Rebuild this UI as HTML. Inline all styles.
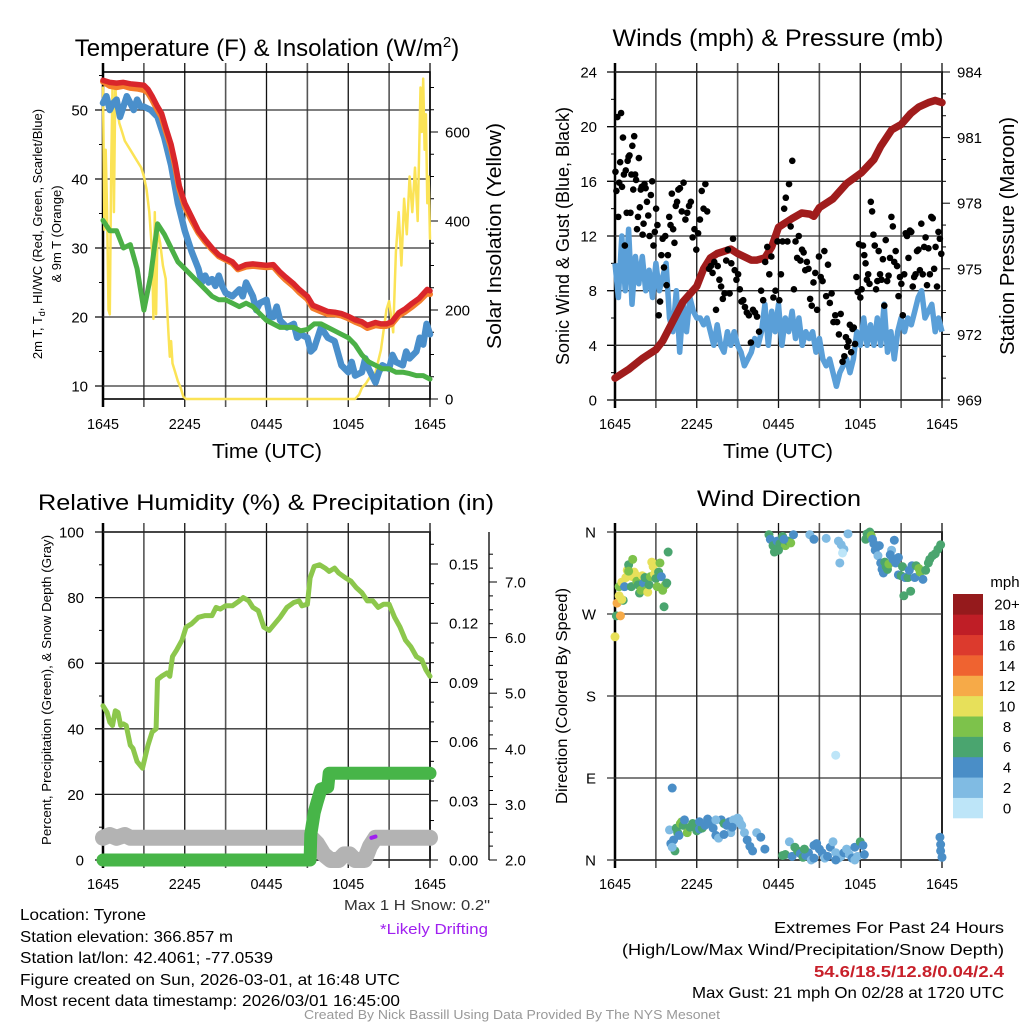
<!DOCTYPE html>
<html><head><meta charset="utf-8"><style>
html,body{margin:0;padding:0;background:#fff;}
svg{display:block;font-family:"Liberation Sans",sans-serif;}
</style></head>
<body>
<svg id="root" width="1024" height="1024" viewBox="0 0 1024 1024" xmlns="http://www.w3.org/2000/svg">
<rect x="0" y="0" width="1024" height="1024" fill="#fff"/>
<g id="g"></g>
</svg>
<script>
// ---------- data ----------
const timeTickLabels = ["1645","2245","0445","1045","1645"];
const tempRed = [[0,54.3],[0.5,54],[1,53.9],[1.5,54],[2,53.8],[2.5,53.7],[3,53.6],[3.3,53],[3.6,52],[4,50.5],[4.3,49.5],[4.6,47.5],[5,45],[5.3,42.3],[5.6,39],[6,36.5],[6.5,34.5],[7,32.5],[7.5,31.2],[8,30],[8.5,29],[9,28.5],[9.5,28],[9.9,27.1],[10.5,27.6],[11,27.7],[11.5,27.6],[12,27.5],[12.5,27.6],[13,26.5],[13.4,25.8],[14,24.8],[14.4,24],[15,23],[15.4,21.7],[16,21.2],[16.5,20.8],[17,20.7],[17.5,20.5],[18,20.1],[18.5,19.6],[19,19.3],[19.4,18.8],[20,19.2],[20.4,19],[20.8,19],[21.2,19.3],[21.7,20.6],[22.2,21.2],[22.7,22],[23.2,22.7],[23.8,24],[24,23.8]];
const tempOrange = [[0,54.1],[0.5,53.5],[1,53.3],[1.5,53.5],[2,53.2],[2.5,53.1],[3,52.9],[3.3,52.5],[3.6,51.5],[4,50],[4.3,49],[4.6,47],[5,44.5],[5.3,41.8],[5.6,38.6],[6,36],[6.5,34],[7,32.2],[7.5,30.9],[8,29.8],[8.5,28.8],[9,28.3],[9.5,27.8],[9.9,26.9],[10.5,27.3],[11,27.4],[11.5,27.3],[12,27.2],[12.5,27.3],[13,26.2],[13.4,25.4],[14,24.4],[14.4,23.6],[15,22.6],[15.4,21.3],[16,20.8],[16.5,20.4],[17,20.4],[17.5,20.2],[18,19.8],[18.5,19.3],[19,18.9],[19.4,18.4],[20,18.8],[20.4,18.7],[20.8,18.7],[21.2,19],[21.7,20.2],[22.2,20.8],[22.7,21.5],[23.2,22.3],[23.8,23.5],[24,23.3]];
const heatIndex = [[0,51],[0.25,52],[0.5,50],[0.75,51],[1,51.5],[1.25,49],[1.5,50.5],[1.75,52],[2,51],[2.25,50],[2.5,51.5],[2.75,50.5],[3,50.5],[3.5,50],[4,49],[4.5,46],[5,42],[5.5,36.5],[6,32.5],[6.5,29.5],[7,27],[7.25,25],[7.5,26],[7.75,25],[8,25.5],[8.25,24.5],[8.5,26],[8.75,24.5],[9,23.5],[9.5,23],[10,24],[10.25,23],[10.5,25],[11,23],[11.25,21],[11.5,22],[12,22.5],[12.25,20],[12.5,20],[12.75,21.5],[13,19.5],[13.5,18.5],[14,19],[14.25,17],[14.5,17.5],[15,17],[15.25,15],[15.5,15.5],[16,18.5],[16.5,17],[17,16.5],[17.5,13],[18,12],[18.25,13.5],[18.5,11.5],[19,12],[19.25,14],[19.5,12.5],[20,10.5],[20.25,12],[20.5,13],[21,12.5],[21.25,14.5],[21.5,13.5],[22,13],[22.25,15],[22.5,14],[23,15],[23.25,17],[23.5,16],[23.75,19],[24,17.5]];
const dewPoint = [[0,34],[0.5,32.5],[1,32.5],[1.5,30],[2,30.5],[2.5,27],[3,21],[3.5,26],[4,33.5],[4.5,32],[5,30],[5.5,28],[6,27],[6.5,26],[7,25],[7.5,24],[8,23],[8.5,22.5],[9,22.5],[9.5,22],[10,21.5],[10.5,22],[11,21.5],[11.5,20.5],[12,19.5],[12.5,19],[13,18.5],[13.5,18.5],[14,18.5],[14.5,18],[15,18.2],[15.5,19],[16,19],[16.5,18.5],[17,18],[17.5,17.5],[18,17],[18.5,16],[19,14.5],[19.5,13.5],[20,13],[20.5,12.5],[21,12.5],[21.5,12],[22,12],[22.5,11.8],[23,11.5],[23.5,11.5],[24,11]];
const insolation = [[0,700],[0.1,380],[0.2,560],[0.3,420],[0.4,200],[0.5,190],[0.6,520],[0.7,700],[0.8,420],[0.9,700],[1.0,660],[1.1,640],[1.2,620],[1.4,600],[1.6,580],[2.0,560],[2.4,540],[2.8,520],[3.0,500],[3.2,470],[3.4,420],[3.6,330],[3.7,180],[3.8,420],[3.9,190],[4.0,380],[4.2,350],[4.4,300],[4.6,270],[4.8,150],[4.9,95],[5.0,130],[5.1,80],[5.3,60],[5.5,40],[5.7,25],[5.9,5],[6.1,0],[18.5,0],[18.8,10],[19.0,25],[19.3,35],[19.6,50],[20.0,60],[20.4,110],[20.8,200],[21.0,220],[21.3,150],[21.5,330],[21.7,420],[21.9,300],[22.1,450],[22.3,370],[22.5,500],[22.7,420],[22.9,520],[23.1,400],[23.3,700],[23.4,600],[23.5,720],[23.6,560],[23.7,640],[23.8,440],[23.9,500],[24,360]];
const windTimes = [0,0.25,0.5,0.75,1,1.25,1.5,1.75,2,2.25,2.5,2.75,3,3.25,3.5,3.75,4,4.25,4.5,4.75,5,5.25,5.5,5.75,6,6.25,6.5,6.75,7,7.25,7.5,7.75,8,8.25,8.5,8.75,9,9.25,9.5,9.75,10,10.25,10.5,10.75,11,11.25,11.5,11.75,12,12.25,12.5,12.75,13,13.25,13.5,13.75,14,14.25,14.5,14.75,15,15.25,15.5,15.75,16,16.25,16.5,16.75,17,17.25,17.5,17.75,18,18.25,18.5,18.75,19,19.25,19.5,19.75,20,20.25,20.5,20.75,21,21.25,21.5,21.75,22,22.25,22.5,22.75,23,23.25,23.5,23.75,24];
const windSpeed = [10,7.5,12,8,12.5,7,10.5,8.5,10.5,8,9.5,7.5,10, 8,9,10,6,5,8,3.5,7,5,7.5,6.5,6, 6,5.5,6,5,4,5.5,4,3.5,5,4,5,4, 3.5,2.5,3,3.5,4.5,4,5,7,4,6.5,5,7, 4,6,5,6.5,4.5,6,4,5,4.5,5,3.5,4.5, 3,2.5,3,2,1,2,2.5,3,2,3,5,4, 6,4,5.5,4,6,4,7,3.5,5,3,5,6, 5,6,5.5,6.5,7.5,8,6,6.5,7,5,6,5];
const gustSegStart = [0,2.2,4.7,7.1,9.6,12,14.5,16.9,19.4,21.8];
const gustSegEnd = [2.2,4.7,7.1,9.6,12,14.5,16.9,19.4,21.8,24];
const gustVals = [
 [16.7,15.3,20.7,13.4,15.9,17.4,21,15.6,19.2,16.5,11.3,16.8,13.7,17.5,17.8,17.9,13.7,16.5,18.6,15.4,19.3,16.5,16.1,12.5,13.4,17.7,14.1,15.4,15.6,12.1,12.9,15.8],
 [15.5,14.5,13.5,12,15,16,11.3,12.3,14,12.8,6.2,7.2,10.6,11.8,9.7,12,8.4,10.6,13.4,12.8,15.1,12.5,11.5,14.2,14.5,15.4],
 [15.5,13.8,15.9,13.2,13.7,14.2,14.5,11.9,12.5,11,12.2,13.2,15.3,14,15.8,13.8,9.6,9.8],
 [9.3,10.1,6.6,9.8,8.8,8.3,7.4,7.8,10.2,11.0,7.8,10.0,11.8,9.5,8.8,9.2,8.1,7.2,7.3,6.8],
 [6.4,6.2,4.2,6.6,6.4,6.1,5.0,8.0,7.3,10.1,11.2,9.2,10.5,7.5,8.0,11.6],
 [7.3,9.2,11.6,14.0,14.8,11.6,15.8,12.7,17.5,8.1,11.6,10.4,12.0,10.2,11.0,10.8,9.5,10.1,9.6,7.4,6.9],
 [8.6,9.3,6.6,10.5,9.0,8.7,10.9,7.6,9.9,7.1,7.8,5.7,6.2,5.7,4.8,6.3,2.8,3.2],
 [4.6,3.9,4.3,5.5,3.5,5.2,5.3,4.1,9.0,7.9,11.4,7.5,8.1,11.3,10.6,10.0,8.8,9.2,8.5,14.5,13.8,12.1,11.3,8.1,8.7,10.9],
 [9.2,8.8,10.3,6.9,11.7,8.7,9.1,10.4,13.4,12.7,10.1,10.9,9.8,7.6,9.0,8.5,6.2,9.2,12.2,12.0,10.4,12.4,12.3],
 [8.3,9.0,9.2,10.9,11.0,9.5,12.9,9.2,11.2,11.9,8.4,11.1,9.2,13.4,13.3,9.6,11.2,8.3,12.3,11.8,10.7]
];
const pressure = [[0,970.0],[1,970.4],[2,970.9],[3,971.3],[3.5,971.7],[4,972.3],[5,973.5],[6,974.2],[6.5,975.0],[7,975.5],[7.5,975.7],[8,975.8],[8.5,975.9],[9,975.7],[10,975.4],[10.4,975.4],[11,975.5],[11.5,976.0],[12,976.9],[12.5,977.1],[13,977.3],[13.7,977.55],[14.3,977.5],[14.6,977.4],[15,977.8],[16,978.2],[17,978.9],[18.1,979.4],[19,980.0],[19.5,980.6],[20.3,981.35],[21,981.6],[21.7,982.1],[22.3,982.4],[23,982.6],[23.5,982.7],[24,982.6]];
const relHum = [[0,47],[0.3,45],[0.5,42],[0.7,41],[0.9,45.5],[1.1,45],[1.3,41],[1.5,41.5],[1.7,41],[2.0,35],[2.2,34],[2.5,30],[2.9,28],[3.3,35],[3.6,39],[3.9,40],[4.0,55],[4.3,56],[4.7,57],[4.9,56],[5.1,62],[5.4,64],[5.8,67],[6.1,71],[6.5,72],[7.0,74],[7.5,74.5],[8.0,74.5],[8.3,77],[8.6,76.5],[9.0,77.5],[9.5,77.5],[10.0,79],[10.3,80],[10.7,79],[11.0,77],[11.4,76],[11.8,71],[12.2,70],[12.6,72],[13.0,74],[13.5,77],[14.0,78.5],[14.4,79],[14.6,77.5],[15.0,78],[15.2,86],[15.5,89.5],[15.9,90],[16.3,89],[16.6,88],[17.0,89],[17.3,87.5],[17.8,86],[18.2,85],[18.6,83],[19.0,81.5],[19.4,79],[19.8,79],[20.2,77],[20.6,78],[21.0,78],[21.4,74],[21.8,71],[22.2,67],[22.6,65],[23.0,62],[23.4,61],[23.7,58],[24,56]];
const precip = [[0,0],[15.2,0],[15.25,0.013],[15.5,0.024],[15.7,0.029],[16.0,0.036],[16.5,0.037],[16.6,0.044],[24,0.044]];
const snowDepth = [[0,2.4],[0.5,2.45],[1,2.4],[1.6,2.45],[2,2.4],[15.3,2.4],[15.7,2.3],[16.2,2.1],[16.7,2.0],[17.3,2.0],[17.7,2.1],[18.1,2.1],[18.5,2.0],[19.2,2.0],[19.6,2.25],[20,2.4],[24,2.4]];
const driftSnow = [[19.7,2.4],[20.0,2.42]];
const dirTimes = [0,0.1,0.15,0.3,0.4,0.3,0.5,0.6,0.7,0.8,0.9,1.0,1.1,1.2,1.3,1.4,1.5,1.6,1.7,1.8,1.9,2.0,2.1,2.2,2.3,2.4,2.5,2.6,2.7,2.8,2.9,3.0,3.1,3.2,3.3,3.4,3.5,3.6,3.7,3.8,3.9,1.3,1.0,0.5,
 4.2,4.0,4.1,4.3,4.4,4.2,4.5,4.6,4.7,4.8,4.9,5.0,5.1,5.3,5.5,5.7,5.9,6.0,6.2,6.4,6.6,6.8,7.0,7.2,7.4,7.6,7.8,8.0,8.2,8.4,8.5,8.7,8.9,9.1,9.3,9.5,9.7,9.9,10.1,8.0,8.6,9.0,9.2,7.4,6.2,10.4,10.7,11.0,
 12.3,12.5,12.8,13.0,13.2,13.4,13.6,13.8,14.0,14.2,14.4,14.6,14.8,15.0,15.2,15.4,15.6,15.8,16.0,16.2,16.4,16.6,16.8,17.0,17.2,17.4,17.6,17.8,18.0,18.2,17.6,16.2,14.6,13.9,18.3,
 11.3,11.4,11.6,11.7,11.9,12.1,12.3,12.5,12.7,12.9,13.1,12.0,12.4,
 14.3,14.6,15.5,16.4,16.6,16.8,16.7,16.5,17.1,16.2,
 18.4,18.5,18.7,18.8,18.9,19.0,19.1,19.3,19.4,19.5,19.6,19.7,19.8,19.9,20.0,20.1,20.3,20.4,20.6,20.8,20.8,21.0,21.1,21.2,21.3,21.5,21.6,21.7,21.8,22.0,22.1,22.3,22.4,22.6,22.8,23.0,23.1,23.3,23.5,23.7,23.9,20.5,20.2,23.9,23.9,24,23.85];
const dirDeg = [245,268,282,290,268,300,305,285,300,310,318,324,312,300,311,316,313,306,302,293,296,312,304,310,296,294,302,311,327,322,314,309,300,316,326,311,296,278,302,304,338,330,317,286,
 79,33,18,22,10,14,35,30,27,40,42,38,44,30,36,40,38,32,34,35,38,45,40,35,27,24,44,40,38,42,30,44,42,44,38,30,22,15,10,28,36,46,40,44,42,30,25,12,
 5,6,20,4,14,10,7,3,5,8,0,2,18,12,8,2,4,14,20,8,2,4,8,12,6,2,14,4,20,16,0,0,16,12,6,
 357,352,345,338,350,347,355,345,350,348,357,340,352,
 357,352,353,350,346,341,337,326,358,115,
 352,358,360,356,352,347,340,334,345,326,319,315,327,322,319,325,340,330,326,332,313,312,322,290,310,310,318,295,323,310,323,320,316,308,318,326,330,334,336,341,346,351,335,10,17,3,25];
const dirSpeed = [10,7,13,10,13,8,10,7,4,10,10,7,10,6,10,10,10,9,6,7,9,10,5,6,9,10,7,9,10,10,10,6,8,7,8,4,8,7,9,6,7,8,9,10,
 4,2,4,4,6,2,6,6,4,8,8,6,4,8,6,6,6,6,4,6,4,4,4,4,4,2,4,6,4,4,2,2,2,2,2,2,4,4,4,4,4,2,2,2,4,3,4,4,
 6,6,2,4,6,6,4,6,4,4,2,4,4,4,4,2,4,4,2,2,2,2,4,2,2,4,4,2,6,4,2,4,4,6,4,
 6,4,6,6,4,6,6,8,6,8,4,6,4,
 2,4,2,2,2,2,0,2,2,1,
 6,6,6,8,4,4,4,2,4,4,4,4,6,6,6,8,2,4,4,4,4,6,6,6,4,6,4,6,4,4,6,8,8,4,6,6,6,6,6,6,6,4,4,4,4,4,4];
const speedLabels = ["0","2","4","6","8","10","12","14","16","18","20+"];
const speedColors = ["#bde5f8","#80bbe3","#4a8ec7","#4aa56f","#7dc24b","#e7e05a","#f6aa48","#ef6330","#dc3a2d","#bf1e26","#951a1c"];

// ---------- helpers ----------
const NS="http://www.w3.org/2000/svg";
const G=document.getElementById('g');
function mk(tag,attrs,parent){const e=document.createElementNS(NS,tag);for(const k in attrs)e.setAttribute(k,attrs[k]);(parent||G).appendChild(e);return e;}
function txt(s,x,y,size,anchor,extra,parent){const e=mk('text',Object.assign({x:x,y:y,'font-size':size,'text-anchor':anchor||'middle',fill:'#000'},extra||{}),parent);e.textContent=s;return e;}
function fit(e,w){e.setAttribute('textLength',w);e.setAttribute('lengthAdjust','spacingAndGlyphs');return e;}
function pathD(pairs,xs,ys){return pairs.map((p,i)=>(i?'L':'M')+xs(p[0]).toFixed(1)+' '+ys(p[1]).toFixed(1)).join(' ');}
function mkX(x0,x1){return h=>x0+h/24*(x1-x0);}
function lin(v0,v1,p0,p1){return v=>p0+(v-v0)/(v1-v0)*(p1-p0);}

function frame(x0,x1,y0,y1,name){
  const g=mk('g',{});
  
  
  for(let i=0;i<=8;i++){const x=x0+i*(x1-x0)/8;
    mk('line',{x1:x,x2:x,y1:y0-9,y2:y1+8,stroke:i%2?'#555':'#111','stroke-width':i%2?1.6:1.3},g);}
  mk('rect',{x:x0,y:y0,width:x1-x0,height:y1-y0,fill:'none',stroke:'#000','stroke-width':1.6},g);
  mk('line',{x1:x0,x2:x0,y1:y0-9,y2:y1+8,stroke:'#000','stroke-width':2.5},g);
  return g;
}
function xLabels(x0,x1,yb,name){
  const xs=mkX(x0,x1);
  timeTickLabels.forEach((l,i)=>{const t=txt(l,xs(i*6),yb,14.5,'middle');
    fit(t,32);
    
    });
}
function hGrid(x0,x1,y,g){mk('line',{x1:x0-8,x2:x1,y1:y,y2:y,stroke:'#333','stroke-width':1.3},g);}
function leftTicks(x0,vals,ys,major,labels,g){
  vals.forEach(v=>{const y=ys(v);mk('line',{x1:x0,x2:x0-(major(v)?8:4),y1:y,y2:y,stroke:'#000','stroke-width':1},g);});
}
function rightTicks(x1,vals,ys,major,g){
  vals.forEach(v=>{const y=ys(v);mk('line',{x1:x1,x2:x1+(major(v)?8:4),y1:y,y2:y,stroke:'#000','stroke-width':1},g);});
}
function rotText(s,x,y,size,name,w){
  const t=txt(s,0,0,size,'middle',{transform:`translate(${x},${y}) rotate(-90)`});
  if(w)fit(t,w);
  
  
  return t;
}

// ================= Panel 1: Temperature =================
(function(){
  const x0=103,x1=430,y0=72,y1=399;
  const xs=mkX(x0,x1);
  const yT=lin(10,50,386,110);
  const yW=lin(0,600,399,132);
  const g=frame(x0,x1,y0,y1,'temperature');
  for(let v=10;v<=50;v+=10)hGrid(x0,x1,yT(v),g);
  const tv=[];for(let v=10;v<=55;v+=5)tv.push(v);
  leftTicks(x0,tv,yT,v=>v%10===0,null,g);
  const wv=[];for(let v=0;v<=700;v+=50)wv.push(v);
  rightTicks(x1,wv,yW,v=>v%200===0,g);
  for(let v=10;v<=50;v+=10){const t=txt(String(v),88,yT(v)+5.5,15,'end');
    
    }
  for(let v=0;v<=600;v+=200){const t=txt(String(v),445,yW(v)+5.5,15,'start');
    
    }
  const series=[[insolation,'#fbe356',2.5,yW,'insolation-line'],[heatIndex,'#4a8fcb',6.5,yT,'heat-index-line'],[dewPoint,'#4bb046',5,yT,'dewpoint-line'],[tempOrange,'#f47d2b',6,yT,'temp-9m-line'],[tempRed,'#d9262b',5.5,yT,'temp-2m-line']];
  series.forEach(s=>{const p=mk('path',{d:pathD(s[0],xs,s[3]),fill:'none',stroke:s[1],'stroke-width':s[2],'stroke-linejoin':'round','stroke-linecap':'round'});
    
    });
  xLabels(x0,x1,429,'temperature');
  const tt=txt('',267,56,24,'middle');
  tt.innerHTML='Temperature (F) &amp; Insolation (W/m<tspan dy="-9" font-size="15">2</tspan><tspan dy="9">)</tspan>';
  
  
  const xl=fit(txt('Time (UTC)',267,458,20),110);
  
  
  const yl=txt('',0,0,13,'middle',{transform:'translate(42,234) rotate(-90)'});
  yl.innerHTML='2m T, T<tspan dy="3" font-size="9">d</tspan><tspan dy="-3">, HI/WC (Red, Green, Scarlet/Blue)</tspan>';
  
  
  rotText('& 9m T (Orange)',61,234,13,'temperature-y-axis-title-2');
  rotText('Solar Insolation (Yellow)',501,236,20,'insolation-y-axis-title',226);
})();

// ================= Panel 2: Winds =================
(function(){
  const x0=615,x1=942,y0=72,y1=400;
  const xs=mkX(x0,x1);
  const yV=lin(0,24,400,72);
  const yP=lin(969,984,400,72);
  const g=frame(x0,x1,y0,y1,'winds');
  for(let v=0;v<=24;v+=4)hGrid(x0,x1,yV(v),g);
  const vv=[];for(let v=0;v<=24;v+=2)vv.push(v);
  leftTicks(x0,vv,yV,v=>v%4===0,null,g);
  const pv=[];for(let v=969;v<=984;v++)pv.push(v);
  rightTicks(x1,pv,yP,v=>(v-969)%3===0,g);
  for(let v=0;v<=24;v+=4){const t=txt(String(v),597,yV(v)+5.5,15,'end');
    
    }
  for(let v=969;v<=984;v+=3){const t=txt(String(v),957,yP(v)+5.5,15,'start');
    
    }
  const wp=windTimes.map((t,i)=>[t,windSpeed[i]]);
  const wl=mk('path',{d:pathD(wp,xs,yV),fill:'none',stroke:'#5a9fd8','stroke-width':5.5,'stroke-linejoin':'round'});
  
  
  const pl=mk('path',{d:pathD(pressure,xs,yP),fill:'none',stroke:'#a01c1c','stroke-width':7.5,'stroke-linejoin':'round','stroke-linecap':'round'});
  
  
  gustVals.forEach((seg,si)=>{
    const a=gustSegStart[si],b=gustSegEnd[si];
    seg.forEach((v,j)=>{const t=a+(b-a)*(j+0.5)/seg.length;
      const c=mk('circle',{cx:xs(t),cy:yV(v),r:3.3,fill:'#000'});
      
      });
  });
  xLabels(x0,x1,429,'winds');
  const tt=fit(txt('Winds (mph) & Pressure (mb)',778,46,24,'middle'),331);
  
  
  const xl=fit(txt('Time (UTC)',778,458,20),110);
  
  
  rotText('Sonic Wind & Gust (Blue, Black)',569,236,18,'wind-y-axis-title',258);
  rotText('Station Pressure (Maroon)',1014,236,20,'pressure-y-axis-title',238);
})();

// ================= Panel 3: RH & Precip =================
(function(){
  const x0=103,x1=430,y0=532,y1=860;
  const xs=mkX(x0,x1);
  const yR=lin(0,100,860,532);
  const yPr=lin(0,0.15,860,564);
  const yS=lin(2,7,860,582);
  const g=frame(x0,x1,y0,y1,'humidity');
  for(let v=0;v<=100;v+=20)hGrid(x0,x1,yR(v),g);
  const rv=[];for(let v=0;v<=100;v+=10)rv.push(v);
  leftTicks(x0,rv,yR,v=>v%20===0,null,g);
  const prv=[];for(let i=0;i<=16;i++)prv.push(i*0.01);
  rightTicks(x1,prv,yPr,v=>Math.round(v*100)%3===0,g);
  for(let v=0;v<=100;v+=20){const t=txt(String(v),84,yR(v)+5.5,15,'end');
    
    }
  ["0.00","0.03","0.06","0.09","0.12","0.15"].forEach(l=>{const t=txt(l,449,yPr(parseFloat(l))+5.5,15,'start');
    
    });
  const sa=mk('g',{});
  
  
  mk('line',{x1:489,x2:489,y1:532,y2:860,stroke:'#000','stroke-width':1.3},sa);
  for(let v=2;v<=7.7;v+=0.25){const y=yS(v);const maj=Math.abs(v-Math.round(v))<0.01;
    mk('line',{x1:489,x2:489+(maj?8:4),y1:y,y2:y,stroke:'#000','stroke-width':1},sa);}
  ["2.0","3.0","4.0","5.0","6.0","7.0"].forEach(l=>{const t=txt(l,505,yS(parseFloat(l))+5.5,15,'start');
    
    });
  const sl=mk('path',{d:pathD(snowDepth,xs,yS),fill:'none',stroke:'#b3b3b3','stroke-width':16,'stroke-linejoin':'round','stroke-linecap':'round'});
  
  
  const dl=mk('path',{d:pathD(driftSnow,xs,yS),fill:'none',stroke:'#a020f0','stroke-width':4,'stroke-linecap':'round'});
  
  
  const pl=mk('path',{d:pathD(precip,xs,yPr),fill:'none',stroke:'#47b548','stroke-width':13,'stroke-linejoin':'round','stroke-linecap':'round'});
  
  
  const rl=mk('path',{d:pathD(relHum,xs,yR),fill:'none',stroke:'#8cc74c','stroke-width':5,'stroke-linejoin':'round','stroke-linecap':'round'});
  
  
  xLabels(x0,x1,889,'humidity');
  const tt=fit(txt('Relative Humidity (%) & Precipitation (in)',266,510,22,'middle'),456);
  
  
  rotText('Percent, Precipitation (Green), & Snow Depth (Gray)',51,690,13,'humidity-y-axis-title',310);
  const st=fit(txt('Max 1 H Snow: 0.2"',490,910,15,'end',{fill:'#333'}),146);
  
  
  const dr=fit(txt('*Likely Drifting',488,934,15,'end',{fill:'#a020f0'}),108);
  
  
})();

// ================= Panel 4: Wind Direction =================
(function(){
  const x0=615,x1=942,y0=532,y1=860;
  const xs=mkX(x0,x1);
  const yD=lin(0,360,860,532);
  const g=frame(x0,x1,y0,y1,'direction');
  const dl=["N","E","S","W","N"];
  for(let i=0;i<=4;i++){const y=yD(i*90);hGrid(x0,x1,y,g);
    const t=txt(dl[i],596,y+5.5,15,'end');
    
    }
  dirTimes.forEach((t,i)=>{const idx=Math.min(10,Math.floor(dirSpeed[i]/2));
    const c=mk('circle',{cx:xs(t),cy:yD(dirDeg[i]),r:4.5,fill:speedColors[idx]});
    
    });
  xLabels(x0,x1,889,'direction');
  const tt=fit(txt('Wind Direction',779,506,22,'middle'),164);
  
  
  rotText('Direction (Colored By Speed)',567,696,16,'direction-y-axis-title',216);
  const lg=mk('g',{});
  
  
  txt('mph',1005,587,15,'middle',{},lg);
  const bh=(818-594)/11;
  speedColors.forEach((c,i)=>{const y=818-(i+1)*bh;
    mk('rect',{x:953,y:y,width:30,height:bh+0.3,fill:c},lg);
    const t=txt(speedLabels[i],1007,y+bh/2+5.5,15,'middle',{},lg);
    
    });
})();

// ================= Footer =================
(function(){
  const left=["Location: Tyrone","Station elevation: 366.857 m","Station lat/lon: 42.4061; -77.0539","Figure created on Sun, 2026-03-01, at 16:48 UTC","Most recent data timestamp: 2026/03/01 16:45:00"];
  const lw=[126,213,253,380,380];
  const ly=[920,942,963,985,1006];
  left.forEach((s,i)=>{const t=fit(txt(s,20,ly[i],16,'start'),lw[i]);
    
    });
  const r1=fit(txt('Extremes For Past 24 Hours',1004,933,16,'end'),230);
  
  
  const r2=fit(txt('(High/Low/Max Wind/Precipitation/Snow Depth)',1004,955,16,'end'),382);
  
  
  const r3=fit(txt('54.6/18.5/12.8/0.04/2.4',1004,977,16,'end',{fill:'#c8202a','font-weight':'bold'}),190);
  
  
  const r4=fit(txt('Max Gust: 21 mph On 02/28 at 1720 UTC',1004,998,16,'end'),312);
  
  
  const cr=fit(txt('Created By Nick Bassill Using Data Provided By The NYS Mesonet',512,1019,12.5,'middle',{fill:'#999'}),416);
  
  
})();
</script>
</body></html>
